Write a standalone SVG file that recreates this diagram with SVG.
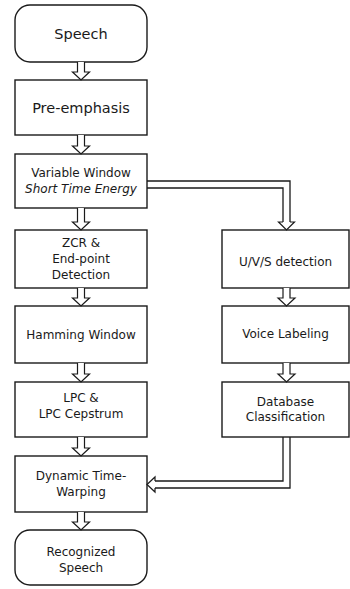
<svg xmlns="http://www.w3.org/2000/svg" width="350" height="589" viewBox="0 0 350 589">
  <style>
    .box { fill: #ffffff; stroke: #1a1a1a; stroke-width: 1.4; }
    .lbl { font-family: "DejaVu Sans", "Liberation Sans", sans-serif; font-size: 12px; fill: #1a1a1a; text-anchor: middle; }
    .big { font-size: 14.5px; }
    .it { font-style: italic; }
    .arr { fill: #ffffff; stroke: #1a1a1a; stroke-width: 1.2; stroke-linejoin: miter; }
    .wire { fill: none; stroke: #1a1a1a; stroke-width: 1.3; }
  </style>
  <rect width="350" height="589" fill="#ffffff"/>

  <!-- left column: recognition pipeline -->
  <g id="speech">
    <rect class="box" x="15" y="5" width="132" height="57" rx="15"/>
    <text class="lbl big" x="81" y="38.5">Speech</text>
  </g>
  <g id="pre-emphasis">
    <rect class="box" x="15" y="80" width="132" height="55"/>
    <text class="lbl big" x="81" y="113">Pre-emphasis</text>
  </g>
  <g id="variable-window">
    <rect class="box" x="15" y="154" width="132" height="54"/>
    <text class="lbl" x="81" y="177">Variable Window</text>
    <text class="lbl it" x="81" y="193">Short Time Energy</text>
  </g>
  <g id="zcr-endpoint">
    <rect class="box" x="15" y="230" width="132" height="58"/>
    <text class="lbl" x="81" y="247">ZCR &amp;</text>
    <text class="lbl" x="81" y="263">End-point</text>
    <text class="lbl" x="81" y="279">Detection</text>
  </g>
  <g id="hamming-window">
    <rect class="box" x="15" y="306" width="132" height="57"/>
    <text class="lbl" x="81" y="339">Hamming Window</text>
  </g>
  <g id="lpc-cepstrum">
    <rect class="box" x="15" y="382" width="132" height="55"/>
    <text class="lbl" x="81" y="402">LPC &amp;</text>
    <text class="lbl" x="81" y="418">LPC Cepstrum</text>
  </g>
  <g id="dtw">
    <rect class="box" x="15" y="456" width="132" height="56"/>
    <text class="lbl" x="81" y="480">Dynamic Time-</text>
    <text class="lbl" x="81" y="496">Warping</text>
  </g>
  <g id="recognized-speech">
    <rect class="box" x="15" y="530" width="132" height="55" rx="15"/>
    <text class="lbl" x="81" y="556">Recognized</text>
    <text class="lbl" x="81" y="572">Speech</text>
  </g>

  <!-- right column: labelling branch -->
  <g id="uvs-detection">
    <rect class="box" x="222" y="230" width="127" height="58"/>
    <text class="lbl" x="285.5" y="266">U/V/S detection</text>
  </g>
  <g id="voice-labeling">
    <rect class="box" x="222" y="306" width="127" height="57"/>
    <text class="lbl" x="285.5" y="338">Voice Labeling</text>
  </g>
  <g id="database-classification">
    <rect class="box" x="222" y="382" width="127" height="55"/>
    <text class="lbl" x="285.5" y="406">Database</text>
    <text class="lbl" x="285.5" y="421">Classification</text>
  </g>

  <!-- hollow block arrows and double-line connectors -->
  <g id="connectors">
    <!-- left column, downward -->
    <path class="arr" d="M77.5,62 V72 H72.5 L81,80 L89.5,72 H84.5 V62"/>
    <path class="arr" d="M77.5,135 V146 H72.5 L81,154 L89.5,146 H84.5 V135"/>
    <path class="arr" d="M77.5,208 V222 H72.5 L81,230 L89.5,222 H84.5 V208"/>
    <path class="arr" d="M77.5,288 V298 H72.5 L81,306 L89.5,298 H84.5 V288"/>
    <path class="arr" d="M77.5,363 V374 H72.5 L81,382 L89.5,374 H84.5 V363"/>
    <path class="arr" d="M77.5,437 V448 H72.5 L81,456 L89.5,448 H84.5 V437"/>
    <path class="arr" d="M77.5,512 V522 H72.5 L81,530 L89.5,522 H84.5 V512"/>

    <!-- right column, downward -->
    <path class="arr" d="M283,288 V298 H278 L286.5,306 L295,298 H290 V288"/>
    <path class="arr" d="M283,363 V374 H278 L286.5,382 L295,374 H290 V363"/>

    <!-- Variable Window to U/V/S detection -->
    <path class="wire" d="M147,181 H290 V222"/>
    <path class="wire" d="M147,188 H283 V222"/>
    <path class="arr" d="M283,222 H278.5 L286.5,230 L294.5,222 H290"/>

    <!-- Database Classification to Dynamic Time-Warping -->
    <path class="wire" d="M290,437 V488 H155"/>
    <path class="wire" d="M283,437 V481 H155"/>
    <path class="arr" d="M155,481 V477 L147,484.5 L155,492 V488"/>
  </g>
</svg>
